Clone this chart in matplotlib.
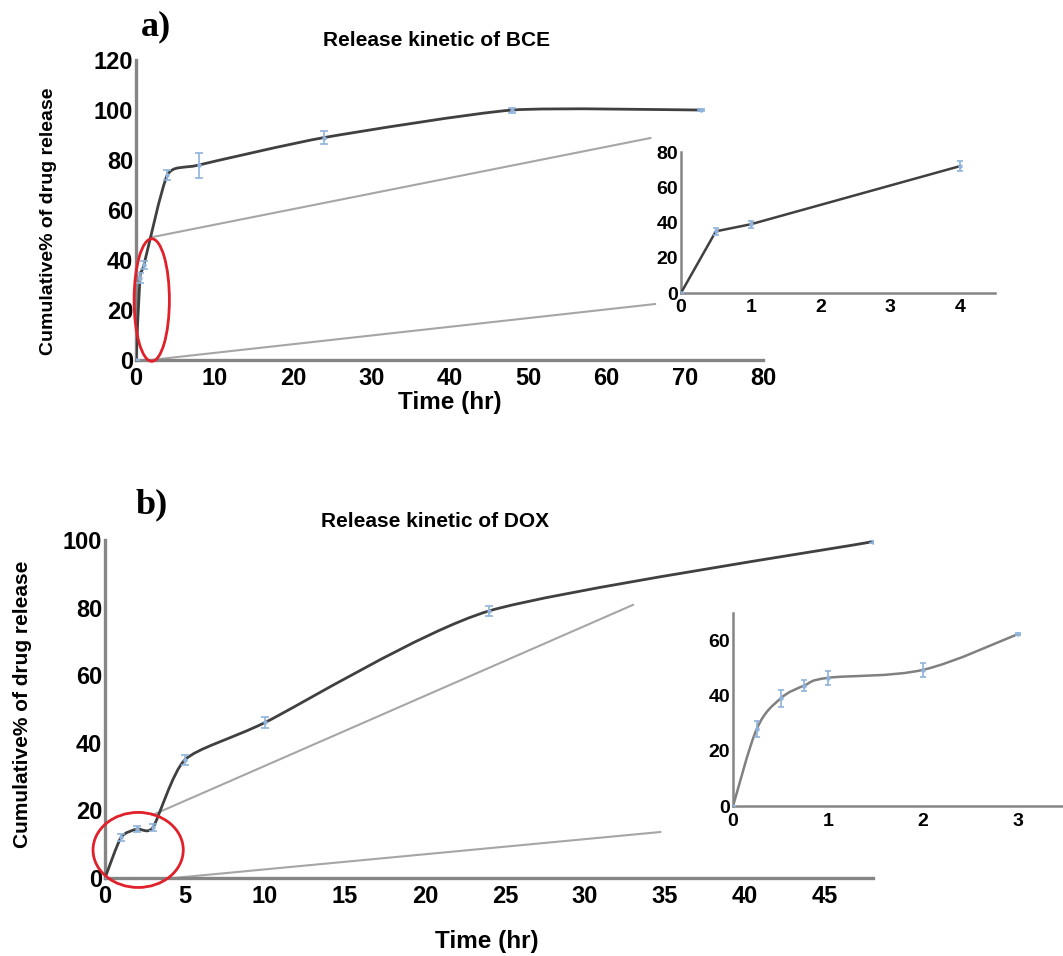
import numpy as np
import matplotlib
matplotlib.use("Agg")
import matplotlib.pyplot as plt
from matplotlib.path import Path
from matplotlib.patches import PathPatch, Ellipse

plt.rcParams["font.family"] = ["Liberation Sans", "DejaVu Sans"]
plt.rcParams["font.weight"] = "bold"

# ---- data ----
bce_t = [0, 0.5, 1, 4, 8, 24, 48, 72]
bce_rel = [0, 33, 38, 74, 78, 89, 100, 100]
bce_err = [0, 2, 1.5, 2, 5, 2.5, 1, 0.5]

bce_early_t = [0, 0.5, 1, 4]
bce_early = [0, 35, 39, 72]
bce_early_err = [0, 2, 2, 3]

dox_t = [0, 1, 2, 3, 5, 10, 24, 48]
dox_rel = [0, 12, 14.5, 15, 35, 46, 79, 99.5]
dox_err = [0, 1, 1, 1, 1.5, 1.5, 1.5, 0.5]

dox_early_t = [0, 0.25, 0.5, 0.75, 1, 2, 3]
dox_early = [0, 28, 39, 43.7, 46.5, 49.4, 62.4]
dox_early_err = [0, 3, 3, 2, 2.5, 2.5, 0.5]

LINE = "#404040"
SPINE = "#858585"
ERR = "#8fb3dc"
ZOOM = "#a6a6a6"


def smooth_line(ax, x, y, color, lw, k=1 / 6):
    """Excel-style smoothed line: cubic Bezier through the points."""
    pts = np.column_stack([x, y]).astype(float)
    n = len(pts)
    verts = [pts[0]]
    codes = [Path.MOVETO]
    for i in range(n - 1):
        p0 = pts[max(i - 1, 0)]
        p1 = pts[i]
        p2 = pts[i + 1]
        p3 = pts[min(i + 2, n - 1)]
        verts += [p1 + (p2 - p0) * k, p2 - (p3 - p1) * k, p2]
        codes += [Path.CURVE4] * 3
    ax.add_patch(PathPatch(Path(verts, codes), fill=False, edgecolor=color,
                           lw=lw, capstyle="round", zorder=3))


def style(ax, lw, size, xpad=2):
    for s in ("top", "right"):
        ax.spines[s].set_visible(False)
    for s in ("left", "bottom"):
        ax.spines[s].set_color(SPINE)
        ax.spines[s].set_linewidth(lw)
    ax.tick_params(length=0, labelsize=size, pad=2)
    ax.tick_params(axis="x", pad=xpad)
    for lab in ax.get_xticklabels() + ax.get_yticklabels():
        lab.set_fontweight("bold")
    ax.patch.set_alpha(0)


def points(ax, t, v, e, cap=3):
    ax.errorbar(t, v, yerr=e, fmt="o", ms=2.2, color=ERR, ecolor=ERR,
                elinewidth=1.2, capsize=cap, capthick=1.2, zorder=4)


fig = plt.figure(figsize=(10.63, 9.56), dpi=100)

# ---------------- panel a ----------------
ax_a = fig.add_axes([0.128, 0.6234, 0.590, 0.3138])
smooth_line(ax_a, bce_t, bce_rel, LINE, 2.0, k=0.1)
points(ax_a, bce_t, bce_rel, bce_err)
ax_a.set_xlim(0, 80)
ax_a.set_ylim(0, 120)
ax_a.set_xticks(range(0, 81, 10))
ax_a.set_yticks(range(0, 121, 20))
style(ax_a, 2.4, 17, xpad=5)
ax_a.set_ylabel("Cumulative% of drug release", fontsize=14, fontweight="bold")
ax_a.yaxis.set_label_coords(-0.126, 0.463)
ax_a.set_xlabel("Time (hr)", fontsize=17.5, fontweight="bold")
ax_a.xaxis.set_label_coords(0.50, -0.103)
# zoom guides
ax_a.plot([1.8, 65.6], [49, 88.8], color=ZOOM, lw=1.5, clip_on=False, zorder=2)
ax_a.plot([1.8, 66.2], [0, 22.4], color=ZOOM, lw=1.5, clip_on=False, zorder=2)
ax_a.add_patch(Ellipse((2.0, 24), 4.5, 49, fill=False, edgecolor="#e0202a",
                       lw=2.0, clip_on=False, zorder=5))

ax_ai = fig.add_axes([0.6406, 0.6935, 0.2954, 0.1475])
ax_ai.plot(bce_early_t, bce_early, color=LINE, lw=1.8, zorder=3)
points(ax_ai, bce_early_t, bce_early, bce_early_err, cap=2.5)
ax_ai.set_xlim(0, 4.5)
ax_ai.set_ylim(0, 80)
ax_ai.set_xticks(range(0, 5))
ax_ai.set_yticks(range(0, 81, 20))
style(ax_ai, 1.8, 14, xpad=4)

fig.text(0.411, 0.958, "Release kinetic of BCE", fontsize=15, fontweight="bold",
         ha="center", va="center")
fig.text(0.147, 0.972, "a)", fontsize=26, fontweight="bold",
         family=["Liberation Serif", "DejaVu Serif"], ha="center", va="center")

# ---------------- panel b ----------------
ax_b = fig.add_axes([0.0988, 0.0816, 0.7225, 0.3536])
smooth_line(ax_b, dox_t, dox_rel, LINE, 2.0, k=0.11)
points(ax_b, dox_t, dox_rel, dox_err)
ax_b.set_xlim(0, 48)
ax_b.set_ylim(0, 100)
ax_b.set_xticks(range(0, 46, 5))
ax_b.set_yticks(range(0, 101, 20))
style(ax_b, 2.4, 17, xpad=5)
ax_b.set_ylabel("Cumulative% of drug release", fontsize=15, fontweight="bold")
ax_b.yaxis.set_label_coords(-0.095, 0.515)
ax_b.set_xlabel("Time (hr)", fontsize=17.5, fontweight="bold")
ax_b.xaxis.set_label_coords(0.497, -0.154)
ax_b.plot([2.95, 33.0], [18.6, 80.8], color=ZOOM, lw=1.5, clip_on=False, zorder=2)
ax_b.plot([4.3, 34.7], [0, 13.6], color=ZOOM, lw=1.5, clip_on=False, zorder=2)
ax_b.add_patch(Ellipse((2.07, 8.3), 5.64, 22.2, fill=False, edgecolor="#e0202a",
                       lw=2.0, clip_on=False, zorder=5))

ax_bi = fig.add_axes([0.6896, 0.1569, 0.3104, 0.2019])
smooth_line(ax_bi, dox_early_t, dox_early, "#808080", 1.8)
points(ax_bi, dox_early_t, dox_early, dox_early_err, cap=2.5)
ax_bi.set_xlim(0, 3.47)
ax_bi.set_ylim(0, 70)
ax_bi.set_xticks(range(0, 4))
ax_bi.set_yticks(range(0, 61, 20))
style(ax_bi, 1.8, 14, xpad=5)

fig.text(0.409, 0.454, "Release kinetic of DOX", fontsize=15, fontweight="bold",
         ha="center", va="center")
fig.text(0.143, 0.472, "b)", fontsize=26, fontweight="bold",
         family=["Liberation Serif", "DejaVu Serif"], ha="center", va="center")

fig.savefig("out.png", dpi=100)
